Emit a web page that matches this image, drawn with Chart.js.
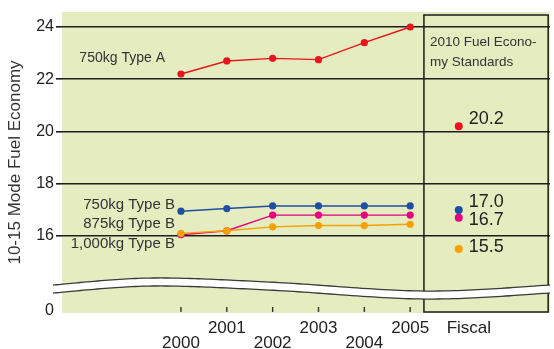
<!DOCTYPE html>
<html>
<head>
<meta charset="utf-8">
<script src="https://cdn.jsdelivr.net/npm/chart.js@4.4.1/dist/chart.umd.min.js"></script>
<style>
  html, body { margin: 0; padding: 0; background: #fff; }
  #wrap { width: 554px; height: 349px; }
</style>
</head>
<body>
<div id="wrap"><canvas id="c" width="554" height="349"></canvas></div>
<script>
// Fiscal years and 10-15 mode fuel economy (km/L) per weight class
const FISCAL_YEARS = [2000, 2001, 2002, 2003, 2004, 2005];
const TYPE_A_750KG = [22.2, 22.7, 22.8, 22.75, 23.4, 24.0];
const TYPE_B_750KG = [16.95, 17.05, 17.15, 17.15, 17.15, 17.15];
const TYPE_B_875KG = [16.05, 16.2, 16.8, 16.8, 16.8, 16.8];
const TYPE_B_1000KG = [16.1, 16.2, 16.35, 16.4, 16.4, 16.45];
const SERIES_LABELS = ['750kg Type A', '750kg Type B', '875kg Type B', '1,000kg Type B'];
// 2010 fuel economy standards, same order as the series
const STANDARDS_2010 = [20.2, 17.0, 16.7, 15.5];
const STANDARD_LABELS = ['20.2', '17.0', '16.7', '15.5'];
const Y_TICKS = [16, 18, 20, 22, 24];
const BOX_TITLE = ['2010 Fuel Econo-', 'my Standards'];

// ---- layout / style ----
const FONT = 'Liberation Sans, Arial, Helvetica, sans-serif';
const PLOT_BG = '#e5ecc0';
const INK = '#222222';
const SERIES_COLORS = ['#e8141e', '#1f4fa0', '#e5007f', '#f5a100'];
const X_MIN = 1997.405, X_MAX = 2008.05;
const Y_MIN = 13.053, Y_MAX = 24.574;
const AXIS_ZERO = 13.15;          // position of the "0" label below the axis break
const STANDARD_X = 2006.06;       // column of the standards box
const BOX_LEFT_X = 2005.30, BOX_RIGHT_X = 2008.01;
const FISCAL_X = 2006.28;
const BREAK_VALUE = 13.97;

Chart.defaults.font.family = FONT;

function lineSet(label, values, color, order) {
  return {
    label,
    data: FISCAL_YEARS.map((x, i) => ({ x, y: values[i] })),
    borderColor: color,
    backgroundColor: color,
    pointBackgroundColor: color,
    pointBorderColor: color,
    pointBorderWidth: 0,
    pointRadius: 3.6,
    borderWidth: 1.4,
    tension: 0,
    order
  };
}

const datasets = [
  lineSet(SERIES_LABELS[0], TYPE_A_750KG, SERIES_COLORS[0], 3),
  lineSet(SERIES_LABELS[1], TYPE_B_750KG, SERIES_COLORS[1], 2),
  lineSet(SERIES_LABELS[2], TYPE_B_875KG, SERIES_COLORS[2], 1),
  lineSet(SERIES_LABELS[3], TYPE_B_1000KG, SERIES_COLORS[3], 0),
  {
    label: '2010 standards',
    data: STANDARDS_2010.map(v => ({ x: STANDARD_X, y: v })),
    showLine: false,
    pointBackgroundColor: SERIES_COLORS,
    pointBorderColor: SERIES_COLORS,
    pointBorderWidth: 0,
    pointRadius: 4,
    order: -1
  }
];

// green plot background
const plotBackground = {
  id: 'plotBackground',
  beforeDraw(chart) {
    const { ctx, chartArea: a } = chart;
    ctx.save();
    ctx.fillStyle = PLOT_BG;
    ctx.fillRect(a.left, a.top, a.right - a.left, a.bottom - a.top);
    ctx.restore();
  }
};

// outlined box holding the 2010 standards
const standardsBox = {
  id: 'standardsBox',
  beforeDatasetsDraw(chart) {
    const { ctx, chartArea: a } = chart;
    const xs = chart.scales.x;
    const l = xs.getPixelForValue(BOX_LEFT_X);
    const r = xs.getPixelForValue(BOX_RIGHT_X);
    ctx.save();
    ctx.strokeStyle = '#1a1a1a';
    ctx.lineWidth = 1.5;
    ctx.strokeRect(l, a.top + 3, r - l, a.bottom - 1 - (a.top + 3));
    ctx.fillStyle = '#333';
    ctx.font = '13.5px ' + FONT;
    ctx.textAlign = 'left';
    ctx.textBaseline = 'middle';
    ctx.fillText(BOX_TITLE[0], l + 6, a.top + 30);
    ctx.fillText(BOX_TITLE[1], l + 6, a.top + 50);
    ctx.restore();
  }
};

function catmull(points, steps) {
  const out = [];
  for (let i = 0; i < points.length - 1; i++) {
    const p0 = points[Math.max(i - 1, 0)], p1 = points[i], p2 = points[i + 1],
          p3 = points[Math.min(i + 2, points.length - 1)];
    for (let s = 0; s < steps; s++) {
      const t = s / steps, t2 = t * t, t3 = t2 * t;
      const f = (a, b, c, d) => 0.5 * (2 * b + (-a + c) * t + (2 * a - 5 * b + 4 * c - d) * t2 + (-a + 3 * b - 3 * c + d) * t3);
      out.push([f(p0[0], p1[0], p2[0], p3[0]), f(p0[1], p1[1], p2[1], p3[1])]);
    }
  }
  out.push(points[points.length - 1]);
  return out;
}

// wavy axis-break band, x tick marks
const axisBreak = {
  id: 'axisBreak',
  afterDatasetsDraw(chart) {
    const { ctx, chartArea: a } = chart;
    const xs = chart.scales.x, ys = chart.scales.y;
    const yc = ys.getPixelForValue(BREAK_VALUE);
    const w = a.right - a.left;
    const nodes = [[-9, 0], [0.18 * w, -7], [0.425 * w, -3], [0.742 * w, 6], [w, 0]]
      .map(([dx, dy]) => [a.left + dx, yc + dy]);
    const path = catmull(nodes, 30);
    const trace = (off) => {
      ctx.beginPath();
      path.forEach(([x, y], i) => (i ? ctx.lineTo(x, y + off) : ctx.moveTo(x, y + off)));
    };
    ctx.save();
    ctx.lineCap = 'butt';
    trace(0);
    ctx.strokeStyle = '#ffffff';
    ctx.lineWidth = 7.5;
    ctx.stroke();
    ctx.strokeStyle = '#3a3a3a';
    ctx.lineWidth = 1.3;
    trace(-4); ctx.stroke();
    trace(4); ctx.stroke();

    // short tick marks inside the plot for each fiscal year
    ctx.strokeStyle = '#333';
    ctx.lineWidth = 1.4;
    FISCAL_YEARS.forEach(yr => {
      const x = xs.getPixelForValue(yr);
      ctx.beginPath();
      ctx.moveTo(x, a.bottom - 6);
      ctx.lineTo(x, a.bottom - 1);
      ctx.stroke();
    });
    ctx.restore();
  }
};

// series names and standard values
const annotations = {
  id: 'annotations',
  afterDraw(chart) {
    const { ctx } = chart;
    ctx.save();
    ctx.fillStyle = '#333';
    ctx.textBaseline = 'middle';
    ctx.textAlign = 'right';
    const nameOffsets = [[-16, -16], [-6, -6.5], [-6, -11], [-6, 10.5]];
    const nameSizes = [14, 15, 15, 15];
    SERIES_LABELS.forEach((name, i) => {
      const p = chart.getDatasetMeta(i).data[0];
      ctx.font = nameSizes[i] + 'px ' + FONT;
      ctx.fillText(name, p.x + nameOffsets[i][0], p.y + nameOffsets[i][1]);
    });

    ctx.fillStyle = INK;
    ctx.textAlign = 'left';
    ctx.font = '18px ' + FONT;
    const valueOffsets = [-7, -8, 2, -2];
    const pts = chart.getDatasetMeta(4).data;
    STANDARD_LABELS.forEach((txt, i) => {
      ctx.fillText(txt, pts[i].x + 10, pts[i].y + valueOffsets[i]);
    });
    ctx.restore();
  }
};

new Chart(document.getElementById('c'), {
  type: 'line',
  data: { datasets },
  options: {
    responsive: false,
    animation: false,
    devicePixelRatio: 1,
    layout: { padding: { top: 12, right: 1, left: 0, bottom: 0 } },
    plugins: { legend: { display: false }, tooltip: { enabled: false } },
    scales: {
      x: {
        type: 'linear',
        min: X_MIN,
        max: X_MAX,
        grid: { display: false },
        border: { display: false },
        afterBuildTicks: s => { s.ticks = [...FISCAL_YEARS, FISCAL_X].map(v => ({ value: v })); },
        afterFit: s => { s.height = 36; },
        ticks: {
          autoSkip: false,
          maxRotation: 0,
          padding: 0,
          color: INK,
          font: { size: 17, lineHeight: '15px' },
          callback: v => v === FISCAL_X ? 'Fiscal' : (v % 2 === 1 ? String(v) : ['', String(v)])
        }
      },
      y: {
        type: 'linear',
        min: Y_MIN,
        max: Y_MAX,
        afterBuildTicks: s => { s.ticks = [AXIS_ZERO, ...Y_TICKS].map(v => ({ value: v })); },
        afterFit: s => { s.width = 62; },
        grid: {
          color: c => (c.tick && c.tick.value === AXIS_ZERO) ? 'rgba(0,0,0,0)' : '#1e1e1e',
          lineWidth: 1.6,
          tickLength: 6
        },
        border: { display: false },
        ticks: {
          padding: 2,
          color: INK,
          font: { size: 16 },
          callback: v => v === AXIS_ZERO ? '0' : String(v)
        },
        title: {
          display: true,
          text: '10-15 Mode Fuel Economy',
          color: '#333',
          font: { size: 17 },
          padding: { top: 5, bottom: 0 }
        }
      }
    }
  },
  plugins: [plotBackground, standardsBox, axisBreak, annotations]
});
</script>
</body>
</html>
